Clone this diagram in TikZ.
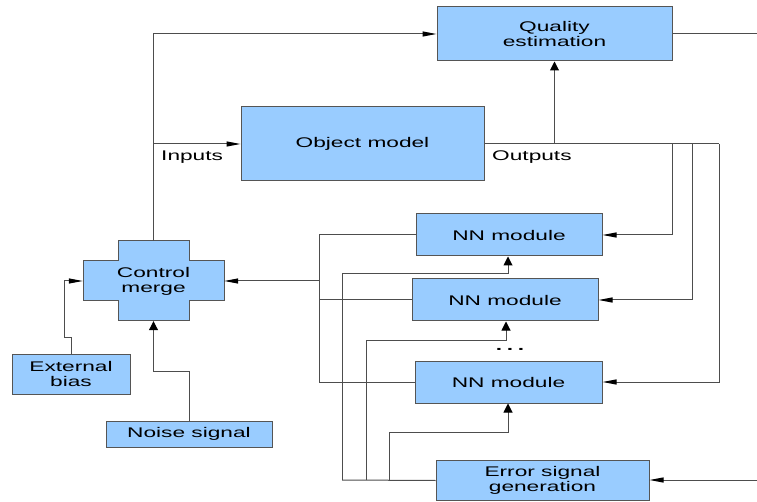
\documentclass[tikz,border=0pt]{standalone}
\usepackage{fontspec}
\newfontfamily\lbl[FakeStretch=1.62]{Liberation Sans}
\usetikzlibrary{arrows.meta}
\definecolor{boxfill}{HTML}{99CCFF}
\definecolor{boxline}{HTML}{555555}
\definecolor{wire}{HTML}{4D4D4D}
\tikzset{
  box/.style={draw=boxline, fill=boxfill, line width=1pt, inner sep=0pt,
    font=\lbl\fontsize{14}{15}\selectfont, align=center},
  ghost/.style={inner sep=0pt, font=\lbl\fontsize{14}{15}\selectfont, align=center},
  lbltext/.style={inner sep=0pt, font=\lbl\fontsize{14}{15}\selectfont},
  wireline/.style={draw=wire, line width=1pt},
  harr/.style={wireline, -{Triangle[length=14pt,width=5pt,color=black]}},
  varr/.style={wireline, -{Triangle[length=9pt,width=9pt,color=black]}}
}
\begin{document}
\begin{tikzpicture}[x=1pt,y=-1pt]
\useasboundingbox (0,0) rectangle (757,502);

% boxes
\node[box, minimum width=235pt, minimum height=54pt] (qe) at (554.5,34) {Quality\\estimation};
\node[box, minimum width=243pt, minimum height=74pt] (om) at (362.5,144) {Object model};
\node[box, minimum width=186pt, minimum height=42pt] (nn1) at (509,235) {NN module};
\node[box, minimum width=186pt, minimum height=42pt] (nn2) at (505,300) {NN module};
\node[box, minimum width=187pt, minimum height=42pt] (nn3) at (508.5,382) {NN module};
\node[box, minimum width=213pt, minimum height=40pt] (esg) at (542.5,480.5) {Error signal\\generation};
\node[box, minimum width=118pt, minimum height=40pt] (eb) at (71,374) {External\\bias};
\node[box, minimum width=166pt, minimum height=26pt] (ns) at (189,434) {Noise signal};

% control merge cross
\draw[draw=boxline, fill=boxfill, line width=1pt]
  (83,261) -- (118,261) -- (118,241) -- (189,241) -- (189,261) -- (224,261)
  -- (224,301) -- (189,301) -- (189,321) -- (118,321) -- (118,301) -- (83,301) -- cycle;
\node[ghost, minimum width=141pt, minimum height=40pt] (cm) at (153.5,281) {Control\\merge};
\node[inner sep=0pt, minimum width=71pt, minimum height=80pt] (cmv) at (153.5,281) {};

% labels
\node[lbltext, anchor=west] (inl) at (161,157) {Inputs};
\node[lbltext, anchor=west] (outl) at (492,157) {Outputs};
\node[inner sep=0pt, anchor=base, font=\lbl\bfseries\fontsize{14}{15}\selectfont] (dots) at (510,350) {.\,\,.\,\,.};

% coordinates
\coordinate (qout) at (757,34);
\coordinate (ein) at (757,480);
\coordinate (r1) at (672,144);
\coordinate (r2) at (692,144);
\coordinate (r3) at (719,144);
\coordinate (fb) at (319,281);
\coordinate (b1) at (342,480);
\coordinate (b2) at (366,480);
\coordinate (b3) at (389,480);
\coordinate (t1) at (508,274);
\coordinate (t2) at (506,340);
\coordinate (t3) at (508,432);
\coordinate (j1) at (64,337);
\coordinate (j2) at (153.5,371);

% control merge to quality estimation and object model
\draw[harr] (cmv.north) |- (qe.west);
\draw[harr] (cmv.north |- om.west) -- (om.west);

% outputs
\draw[wireline] (om.east) -- (r3);
\draw[varr] (qe.south |- om.east) -- (qe.south);
\draw[wireline] (qe.east) -- (qout);
\draw[harr] (r1) |- (nn1.east);
\draw[harr] (r2) |- (nn2.east);
\draw[harr] (r3) |- (nn3.east);

% NN feedback to control merge
\draw[wireline] (nn1.west) -| (fb);
\draw[wireline] (nn3.west) -| (fb);
\draw[wireline] (nn2.west) -- (nn2.west -| fb);
\draw[harr] (fb) -- (cm.east);

% error signal distribution
\draw[harr] (ein) -- (ein -| esg.east);
\draw[wireline] (esg.west) -- (b1);
\draw[varr] (b1) |- (t1) -- (t1 |- nn1.south);
\draw[varr] (b2) |- (t2) -- (t2 |- nn2.south);
\draw[varr] (b3) |- (t3) -- (t3 |- nn3.south);

% external bias and noise
\draw[harr] (eb.north) |- (j1) |- (cm.west);
\draw[varr] (ns.north) |- (j2) -- (cmv.south);
\end{tikzpicture}
\end{document}
